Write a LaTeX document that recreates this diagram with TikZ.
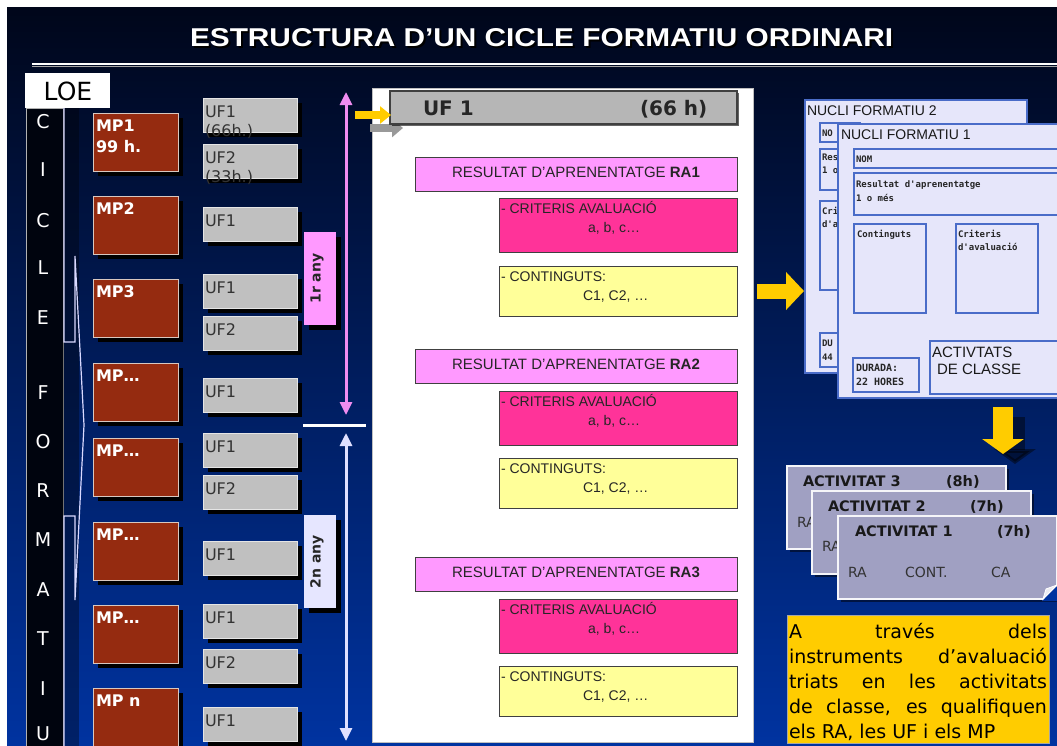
\documentclass[tikz,border=0pt]{standalone}
\usepackage{fontspec}
\usepackage{graphicx}
\setmainfont{DejaVu Sans}
\newfontfamily\lib{Liberation Sans}
\newfontfamily\monof{DejaVu Sans Mono}
\usetikzlibrary{arrows.meta,shadows}
\definecolor{bgtop}{HTML}{00061A}
\definecolor{bgmid}{HTML}{00227A}
\definecolor{bgbot}{HTML}{0033A0}
\definecolor{mpbrown}{HTML}{952B10}
\definecolor{mpedge}{HTML}{D8C8C0}
\definecolor{ufgray}{HTML}{C0C0C0}
\definecolor{rapink}{HTML}{FF99FF}
\definecolor{crmag}{HTML}{FF3399}
\definecolor{coyel}{HTML}{FFFF99}
\definecolor{nflav}{HTML}{E6E6FA}
\definecolor{nfblue}{HTML}{4A6CC8}
\definecolor{actgray}{HTML}{A0A0C2}
\definecolor{yel}{HTML}{FFCC00}
\definecolor{pinkarr}{HTML}{F08CF0}
\definecolor{lavarr}{HTML}{E0E0FF}
\definecolor{anylav}{HTML}{E6E6FF}
\definecolor{darkstrip}{HTML}{00040E}
\begin{document}
\begin{tikzpicture}[x=1pt,y=-1pt,
  bx/.style={rectangle, inner sep=0pt, outer sep=0pt, anchor=north west},
  sz/.style 2 args={minimum width=#1pt, minimum height=#2pt},
  shad/.style={drop shadow={shadow xshift=5pt,shadow yshift=-5pt,opacity=1,fill=black}},
  mpbox/.style={bx, fill=mpbrown, draw=mpedge, line width=0.8pt, shad, sz={85}{58}},
  ufbox/.style={bx, fill=ufgray, draw=white!80!gray, line width=0.8pt, shad, sz={94}{34}},
  tx/.style={inner sep=0pt, outer sep=0pt, anchor=base west},
  mptxt/.style={tx, text=white, font=\bfseries\fontsize{16}{19}\selectfont},
  uftxt/.style={tx, text=black!80, font=\fontsize{16}{19}\selectfont},
  strl/.style={inner sep=0pt, text=white, font=\fontsize{19}{20}\selectfont},
  brk/.style={draw=white!85!blue, line width=1.2pt},
  anybox/.style={bx, sz={32}{93}, shad},
  anytxt/.style={inner sep=0pt, rotate=90, font=\bfseries\fontsize{14}{16}\selectfont, text=black!85},
  rabox/.style={bx, sz={322}{34}, fill=rapink, draw=black!75, line width=1pt},
  crbox/.style={bx, sz={238}{54}, fill=crmag, draw=black!75, line width=1pt},
  cobox/.style={bx, sz={238}{50}, fill=coyel, draw=black!75, line width=1pt},
  ratxt/.style={inner sep=0pt, anchor=base, text=black!85, font=\lib\fontsize{15}{18}\selectfont},
  smtxt/.style={tx, text=black!85, font=\lib\fontsize{14}{16}\selectfont},
  nfbox/.style={bx, fill=nflav, draw=nfblue, line width=1.3pt},
  nftitle/.style={tx, text=black!90, font=\lib\fontsize{14}{16}\selectfont},
  nftiny/.style={tx, text=black!85, font=\monof\bfseries\fontsize{9}{10}\selectfont},
  card/.style={bx, sz={219}{83}, fill=actgray, draw=white!90!actgray, line width=1.5pt,
     drop shadow={shadow xshift=3pt,shadow yshift=-3pt,opacity=0.5,fill=black}},
  acth/.style={tx, text=black!90, font=\bfseries\fontsize{14.5}{16}\selectfont},
  actt/.style={tx, text=black!80, font=\fontsize{14}{16}\selectfont},
  ytxt/.style={tx, text=black, font=\fontsize{19}{25}\selectfont}
]
\useasboundingbox (0,0) rectangle (1057,745);
\clip (0,0) rectangle (1057,745);
\fill[white] (0,0) rectangle (1057,745);
\shade[top color=bgtop, middle color=bgmid, bottom color=bgbot] (7,7) rectangle (1057,745);

% title
\node[tx, anchor=south west, text=black] (titlesh) at (192,49) {\resizebox{703pt}{18pt}{\lib\bfseries ESTRUCTURA D’UN CICLE FORMATIU ORDINARI}};
\node[tx, anchor=south west, text=white] (title) at (190,47) {\resizebox{703pt}{18pt}{\lib\bfseries ESTRUCTURA D’UN CICLE FORMATIU ORDINARI}};
\coordinate (hl1) at (32,64);
\coordinate (hl2) at (1057,64);
\draw[white, line width=2.5pt] (hl1) -- (hl2);
\draw[gray!70, line width=1pt] ([yshift=-2.5pt]hl1) -- ([yshift=-2.5pt]hl2);

% left strip
\node[bx, sz={37}{645}, fill=darkstrip, draw=gray!60, line width=0.6pt] (strip) at (26,108) {};
\node[bx, sz={16}{645}, fill=black, fill opacity=0.35] (strip2) at (63,108) {};
\node[bx, sz={85}{35}, fill=white] (loe) at (25,73) {};
\node[inner sep=0pt, font=\fontsize{25}{28}\selectfont] (loet) at (68,91) {LOE};
\foreach \c/\yy [count=\k] in {C/122, I/170, C/221, L/268, E/318, F/393, O/442, R/491, M/540, A/590, T/639, I/689, U/734}
  \node[strl] (cl\k) at (43,\yy) {\c};
\draw[brk] (64,108) -- (64,342) -- (75,342) -- (75,256) -- (84,425) -- (75,600) -- (75,516) -- (64,516) -- (64,750);

% MP boxes
\foreach \t/\l/\n in {113/MP1/1, 196/MP2/2, 279/MP3/3, 363/MP…/4, 438/MP…/5, 522/MP…/6, 605/MP…/7}{
  \node[mpbox] (mp\n) at (93,\t) {};
  \node[mptxt] (mpt\n) at ([xshift=3pt,yshift=-18pt]mp\n.north west) {\l};
}
\node[mpbox, sz={85}{70}] (mp8) at (93,688) {};
\node[mptxt] (mpt8) at ([xshift=3pt,yshift=-18pt]mp8.north west) {MP n};
\node[mptxt] (mpt1b) at ([xshift=3pt,yshift=-39pt]mp1.north west) {99 h.};

% UF boxes
\foreach \t/\l/\n in {98/UF1/1, 144/UF2/2, 207/UF1/3, 274/UF1/4, 316/UF2/5, 378/UF1/6, 433/UF1/7, 475/UF2/8, 541/UF1/9, 604/UF1/10, 649/UF2/11, 707/UF1/12}{
  \node[ufbox] (uf\n) at (203,\t) {};
  \node[uftxt] (uft\n) at ([xshift=2pt,yshift=-19pt]uf\n.north west) {\l};
}
\node[uftxt] (uft1b) at ([xshift=2pt,yshift=-38pt]uf1.north west) {(66h.)};
\node[uftxt] (uft2b) at ([xshift=2pt,yshift=-38pt]uf2.north west) {(33h.)};

% year labels
\node[anybox, fill=rapink] (any1) at (304,232) {};
\node[anytxt] (any1t) at ([xshift=-3pt]any1.center) {1r any};
\node[anybox, fill=anylav] (any2) at (304,515) {};
\node[anytxt] (any2t) at ([xshift=-3pt]any2.center) {2n any};

% year arrows
\coordinate (pa1) at (346,92);
\coordinate (pa2) at (346,415);
\draw[pinkarr, line width=3pt, {Triangle[width=12pt,length=13pt]}-{Triangle[width=12pt,length=13pt]}] (pa1) -- (pa2);
\coordinate (dv1) at (303,425);
\coordinate (dv2) at (366,425);
\draw[white, line width=3pt] (dv1) -- (dv2);
\coordinate (la1) at (346,433);
\coordinate (la2) at (346,741);
\draw[lavarr, line width=3pt, {Triangle[width=12pt,length=13pt]}-{Triangle[width=12pt,length=13pt]}] (la1) -- (la2);

% UF panel
\node[bx, sz={381}{654}, fill=white, draw=gray!50, line width=1pt] (panel) at (372,88) {};
\coordinate (ga1) at (370,128);
\coordinate (ga2) at (403,128);
\draw[gray!80, line width=8pt, -{Triangle[width=18pt,length=11pt]}] (ga1) -- (ga2);
\node[bx, sz={347}{33}, fill=ufgray!95!black, draw=black!75, line width=1.2pt,
  drop shadow={shadow xshift=2pt,shadow yshift=-2pt,opacity=0.6,fill=black}] (hdr) at (390,91) {};
\node[tx, font=\bfseries\fontsize{20}{22}\selectfont, text=black!85] (hdr1) at (423,115) {UF 1};
\node[tx, font=\bfseries\fontsize{20}{22}\selectfont, text=black!85] (hdr2) at (640,115) {(66 h)};
\coordinate (ya1) at (355,115);
\coordinate (ya2) at (391,115);
\draw[yel, line width=8pt, -{Triangle[width=17pt,length=11pt]}] (ya1) -- (ya2);

\foreach \i/\ra/\cr/\co in {1/157/198/266, 2/349/391/458, 3/557/599/666}{
  \node[rabox] (ra\i) at (415,\ra) {};
  \node[ratxt] (rat\i) at ([yshift=-20pt]ra\i.north) {RESULTAT D’APRENENTATGE \textbf{RA\i}};
  \node[crbox] (cr\i) at (499,\cr) {};
  \node[smtxt] (crt\i) at ([xshift=2pt,yshift=-15pt]cr\i.north west) {- CRITERIS AVALUACIÓ};
  \node[smtxt] (crv\i) at ([xshift=89pt,yshift=-34pt]cr\i.north west) {a, b, c…};
  \node[cobox] (co\i) at (499,\co) {};
  \node[smtxt] (cot\i) at ([xshift=2pt,yshift=-15pt]co\i.north west) {- CONTINGUTS:};
  \node[smtxt] (cov\i) at ([xshift=84pt,yshift=-34pt]co\i.north west) {C1, C2, …};
}

% arrow to nuclis
\coordinate (yr1) at (757,291);
\coordinate (yr2) at (804,291);
\draw[yel, line width=15pt, -{Triangle[width=37pt,length=18pt]}] (yr1) -- (yr2);

% Nucli formatiu 2
\node[nfbox, sz={222}{273}] (nf2) at (805,100) {};
\node[nftitle] (nf2t) at (807,115) {NUCLI FORMATIU 2};
\node[nfbox, sz={40}{19}] (nf2a) at (820,123) {};
\node[nfbox, sz={40}{41}] (nf2b) at (820,149) {};
\node[nfbox, sz={40}{89}] (nf2c) at (820,201) {};
\node[nfbox, sz={40}{34}] (nf2d) at (820,333) {};
\node[nftiny] (nf2at) at (822,136) {NO};
\node[nftiny] (nf2bt) at (822,160) {Res};
\node[nftiny] (nf2bu) at (822,173) {1 o};
\node[nftiny] (nf2ct) at (822,214) {Cri};
\node[nftiny] (nf2cu) at (822,227) {d'a};
\node[nftiny] (nf2dt) at (822,346) {DU};
\node[nftiny] (nf2du) at (822,360) {44};

% Nucli formatiu 1
\node[nfbox, sz={230}{274}] (nf1) at (838,124) {};
\node[nftitle] (nf1t) at (841,139) {NUCLI FORMATIU 1};
\node[nfbox, sz={215}{19}] (nom) at (854,149) {};
\node[nftiny] (nomt) at (856,162) {NOM};
\node[nfbox, sz={215}{42}] (res) at (854,173) {};
\node[nftiny] (rest) at (856,187) {Resultat d'aprenentatge};
\node[nftiny] (resu) at (856,201) {1 o més};
\node[nfbox, sz={72}{89}] (cont) at (854,224) {};
\node[nftiny] (contt) at (857,237) {Continguts};
\node[nfbox, sz={82}{89}] (crit) at (956,224) {};
\node[nftiny] (critt) at (958,237) {Criteris};
\node[nftiny] (critu) at (958,250) {d'avaluació};
\node[nfbox, sz={66}{34}] (dur) at (853,358) {};
\node[nftiny, font=\monof\bfseries\fontsize{10}{11}\selectfont] (durt) at (856,371) {DURADA:};
\node[nftiny, font=\monof\bfseries\fontsize{10}{11}\selectfont] (duru) at (856,385) {22 HORES};
\node[nfbox, sz={135}{53}] (actc) at (930,341) {};
\node[tx, font=\lib\fontsize{15}{17}\selectfont, text=black!90] (actct) at (932,357) {ACTIVTATS};
\node[tx, font=\lib\fontsize{15}{17}\selectfont, text=black!90] (actcu) at (937,374) {DE CLASSE};

% down arrow
\coordinate (yd1) at (1003,407);
\coordinate (yd2) at (1003,454);
\draw[black, opacity=0.45, line width=20pt, -{Triangle[width=41pt,length=15pt]}] ([xshift=12pt,yshift=-10pt]yd1) -- ([xshift=12pt,yshift=-10pt]yd2);
\draw[yel, line width=20pt, -{Triangle[width=41pt,length=15pt]}] (yd1) -- (yd2);

% activity cards
\node[card] (act3) at (787,466) {};
\node[acth] (a3h) at (803,486) {ACTIVITAT 3};
\node[acth] (a3d) at (946,486) {(8h)};
\node[actt] (a3r) at (797,527) {RA};
\node[card] (act2) at (812,491) {};
\node[acth] (a2h) at (828,511) {ACTIVITAT 2};
\node[acth] (a2d) at (970,511) {(7h)};
\node[actt] (a2r) at (822,551) {RA};
\node[card] (act1) at (838,516) {};
\node[acth] (a1h) at (855,536) {ACTIVITAT 1};
\node[acth] (a1d) at (997,536) {(7h)};
\node[actt] (a1r) at (848,577) {RA};
\node[actt] (a1c) at (905,577) {CONT.};
\node[actt] (a1a) at (991,577) {CA};
\fill[bgbot] (1058,585) -- (1058,601) -- (1042,601) -- cycle;
\filldraw[fill=white!80!actgray, draw=white, line width=0.8pt] (1057,585) -- (1043,599) -- (1046,589) -- cycle;

% yellow note
\node[bx, sz={262}{128}, fill=yel, draw=gray!70, line width=1pt] (ybox) at (787,615) {};
\node[ytxt] (yl1) at (789,638) {\makebox[258pt][s]{A través dels}};
\node[ytxt] (yl2) at (789,663) {\makebox[258pt][s]{instruments d’avaluació}};
\node[ytxt] (yl3) at (789,688) {\makebox[258pt][s]{triats en les activitats}};
\node[ytxt] (yl4) at (789,713) {\makebox[258pt][s]{de classe, es qualifiquen}};
\node[ytxt] (yl5) at (789,738) {els RA, les UF i els MP};
\end{tikzpicture}
\end{document}
